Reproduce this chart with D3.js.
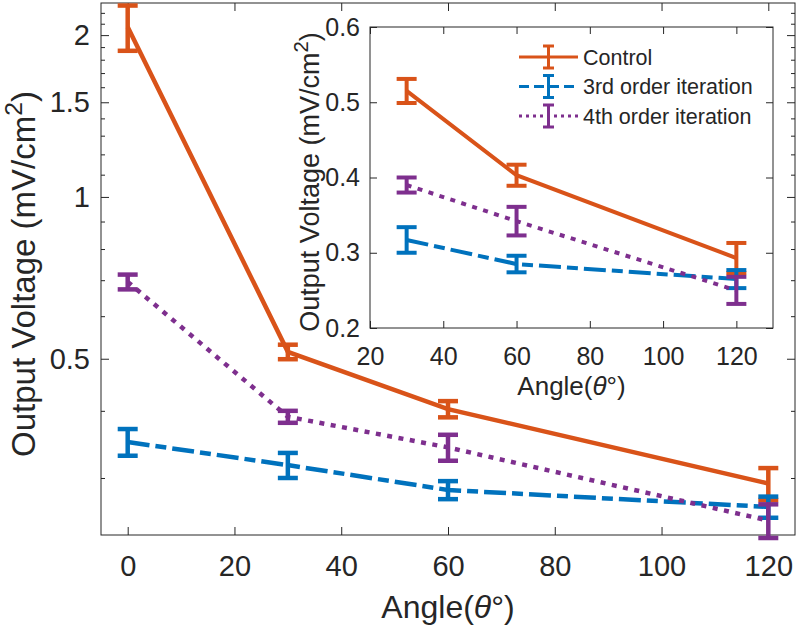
<!DOCTYPE html>
<html>
<head>
<meta charset="utf-8">
<script src="https://cdn.jsdelivr.net/npm/d3@7"></script>
<style>
  body { margin: 0; background: #fff; }
  text { font-family: "Liberation Sans", Arial, sans-serif; fill: #262626; }
</style>
</head>
<body>
<svg width="797" height="626"></svg>
<script>
// data
const angles = [0, 30, 60, 120];
const controlMean = [2.07, 0.515, 0.403, 0.293];
const controlErr = [0.2, 0.016, 0.014, 0.02];
const thirdMean = [0.35, 0.317, 0.285, 0.265];
const thirdErr = [0.02, 0.017, 0.011, 0.012];
const fourthMean = [0.695, 0.39, 0.342, 0.25];
const fourthErr = [0.022, 0.01, 0.019, 0.018];
const seriesNames = ["Control", "3rd order iteration", "4th order iteration"];

const mainYTicks = [0.5, 1, 1.5, 2];
const mainYMinor = [0.3, 0.4, 0.6, 0.7, 0.8, 0.9, 1.1, 1.2, 1.3, 1.4, 1.6, 1.7, 1.8, 1.9, 2.1, 2.2];
const mainXTicks = [0, 20, 40, 60, 80, 100, 120];
const insetXTicks = [20, 40, 60, 80, 100, 120];
const insetYTicks = [0.2, 0.3, 0.4, 0.5, 0.6];

const series = [
  {name: seriesNames[0], mean: controlMean, err: controlErr, color: "#D95319", dash: null},
  {name: seriesNames[1], mean: thirdMean, err: thirdErr, color: "#0072BD", dash: "22,6,11,6"},
  {name: seriesNames[2], mean: fourthMean, err: fourthErr, color: "#7E2F8E", dash: "5,6.5"}
];

const svg = d3.select("svg");
const axisColor = "#262626";

// style an axis group: inward ticks, grey lines
function styleAxis(g, fontSize) {
  g.select(".domain").remove();
  g.selectAll(".tick line").attr("stroke", axisColor);
  g.selectAll("text").style("font-size", fontSize + "px").attr("fill", axisColor);
}

function drawBox(g, w, h) {
  g.append("rect")
    .attr("width", w).attr("height", h)
    .attr("fill", "none").attr("stroke", axisColor).attr("stroke-width", 1);
}

// lines + error bars
function drawSeries(g, x, y, xs, lw, capW, startIdx) {
  series.forEach(s => {
    const pts = xs.map((a, i) => ({a: a, m: s.mean[i + startIdx], e: s.err[i + startIdx]}));
    const line = d3.line().x(d => x(d.a)).y(d => y(d.m));
    g.append("path")
      .datum(pts)
      .attr("d", line)
      .attr("fill", "none")
      .attr("stroke", s.color)
      .attr("stroke-width", lw)
      .attr("stroke-dasharray", s.dash);
    const bars = g.append("g").attr("stroke", s.color).attr("stroke-width", lw);
    pts.forEach(d => {
      const cx = x(d.a), y0 = y(d.m - d.e), y1 = y(d.m + d.e);
      bars.append("line").attr("x1", cx).attr("x2", cx).attr("y1", y0).attr("y2", y1);
      bars.append("line").attr("x1", cx - capW / 2).attr("x2", cx + capW / 2).attr("y1", y0).attr("y2", y0);
      bars.append("line").attr("x1", cx - capW / 2).attr("x2", cx + capW / 2).attr("y1", y1).attr("y2", y1);
    });
  });
}

function yLabel(g, cx, cy, size) {
  const t = g.append("text")
    .attr("transform", `translate(${cx},${cy}) rotate(-90)`)
    .attr("text-anchor", "middle")
    .style("font-size", size + "px");
  t.append("tspan").text("Output Voltage (mV/cm");
  t.append("tspan").text("2").attr("dy", -size * 0.4).style("font-size", (size * 0.75) + "px");
  t.append("tspan").text(")").attr("dy", size * 0.4);
}

function xLabel(g, cx, cy, size) {
  const t = g.append("text")
    .attr("x", cx).attr("y", cy)
    .attr("text-anchor", "middle")
    .style("font-size", size + "px");
  t.append("tspan").text("Angle(");
  t.append("tspan").text("θ").style("font-style", "italic");
  t.append("tspan").text("°)");
}

// ---- main axes ----
const main = {left: 101, top: 3, right: 795, bottom: 535};
const mw = main.right - main.left, mh = main.bottom - main.top;
const mainG = svg.append("g").attr("transform", `translate(${main.left},${main.top})`);

const x = d3.scaleLinear().domain([-5, 125]).range([0, mw]);
const y = d3.scaleLog().domain([0.235, 2.295]).range([mh, 0]);

mainG.append("g").attr("transform", `translate(0,${mh})`)
  .call(d3.axisBottom(x).tickValues(mainXTicks).tickSize(-8).tickPadding(20).tickFormat(d3.format("d")))
  .call(g => styleAxis(g, 29));
mainG.append("g")
  .call(d3.axisTop(x).tickValues(mainXTicks).tickSize(-8).tickFormat(""))
  .call(g => styleAxis(g, 29));
mainG.append("g")
  .call(d3.axisLeft(y).tickValues(mainYTicks).tickSize(-8).tickPadding(11).tickFormat(d3.format("")))
  .call(g => styleAxis(g, 29));
mainG.append("g")
  .call(d3.axisLeft(y).tickValues(mainYMinor).tickSize(-4).tickFormat(""))
  .call(g => styleAxis(g, 29));
mainG.append("g").attr("transform", `translate(${mw},0)`)
  .call(d3.axisRight(y).tickValues(mainYTicks).tickSize(-8).tickFormat(""))
  .call(g => styleAxis(g, 29));
mainG.append("g").attr("transform", `translate(${mw},0)`)
  .call(d3.axisRight(y).tickValues(mainYMinor).tickSize(-4).tickFormat(""))
  .call(g => styleAxis(g, 29));
drawBox(mainG, mw, mh);

drawSeries(mainG, x, y, angles, 4.5, 20, 0);

yLabel(svg, 35, 274, 33);
xLabel(svg, main.left + mw / 2, 618, 32);

// ---- inset axes ----
const ins = {left: 370, top: 27, right: 773, bottom: 328};
const iw = ins.right - ins.left, ih = ins.bottom - ins.top;
const insetX = d3.scaleLinear().domain([20, 130]).range([0, iw]);
const insetY = d3.scaleLinear().domain([0.2, 0.6]).range([ih, 0]);

const insG = svg.append("g").attr("transform", `translate(${ins.left},${ins.top})`);
// white plot area of the inset
insG.append("rect").attr("width", iw).attr("height", ih).attr("fill", "#fff");
insG.append("g").attr("transform", `translate(0,${ih})`)
  .call(d3.axisBottom(insetX).tickValues(insetXTicks).tickSize(-7).tickPadding(19).tickFormat(d3.format("d")))
  .call(g => styleAxis(g, 25));
insG.append("g")
  .call(d3.axisTop(insetX).tickValues(insetXTicks).tickSize(-7).tickFormat(""))
  .call(g => styleAxis(g, 25));
insG.append("g")
  .call(d3.axisLeft(insetY).tickValues(insetYTicks).tickSize(-7).tickPadding(10).tickFormat(d3.format(".1f")))
  .call(g => styleAxis(g, 25));
insG.append("g").attr("transform", `translate(${iw},0)`)
  .call(d3.axisRight(insetY).tickValues(insetYTicks).tickSize(-7).tickFormat(""))
  .call(g => styleAxis(g, 25));
drawBox(insG, iw, ih);

drawSeries(insG, insetX, insetY, angles.slice(1), 4, 20, 1);

yLabel(svg, 319, 182, 27);
xLabel(svg, ins.left + iw / 2, 395, 26);

// legend
const legend = svg.append("g").attr("transform", "translate(519,57)");
series.forEach((s, i) => {
  const row = legend.append("g").attr("transform", `translate(0,${i * 29.5})`);
  row.append("line").attr("x1", 0).attr("x2", 59).attr("y1", 0).attr("y2", 0)
    .attr("stroke", s.color).attr("stroke-width", 3).attr("stroke-dasharray", s.dash ? (i === 1 ? "10,5" : "3,4") : null);
  const bar = row.append("g").attr("stroke", s.color).attr("stroke-width", 3);
  bar.append("line").attr("x1", 29.5).attr("x2", 29.5).attr("y1", -11).attr("y2", 11);
  bar.append("line").attr("x1", 24).attr("x2", 35).attr("y1", -11).attr("y2", -11);
  bar.append("line").attr("x1", 24).attr("x2", 35).attr("y1", 11).attr("y2", 11);
  row.append("text").attr("x", 64).attr("y", 0).attr("dy", "0.35em")
    .style("font-size", "21.5px").text(s.name);
});
</script>
</body>
</html>
